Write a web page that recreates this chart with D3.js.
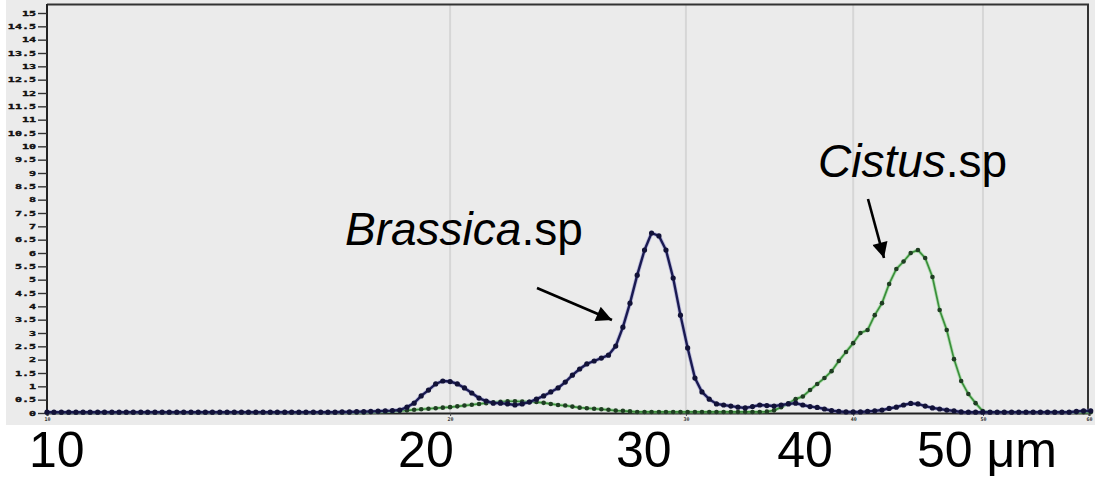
<!DOCTYPE html>
<html><head><meta charset="utf-8">
<script src="https://cdn.jsdelivr.net/npm/d3@7"></script>
<style>
html,body{margin:0;padding:0;background:#fff;}
svg{display:block;}
</style>
</head><body>
<svg id="chart" width="1095" height="477"></svg>
<script>
// particle size channels (µm, log-spaced)
const sizes = [
10.00,10.12,10.25,10.38,10.51,10.64,10.77,10.91,11.04,11.18,
11.32,11.46,11.60,11.75,11.89,12.04,12.19,12.34,12.50,12.65,
12.81,12.97,13.13,13.29,13.46,13.63,13.80,13.97,14.14,14.32,
14.50,14.68,14.86,15.05,15.23,15.42,15.61,15.81,16.01,16.21,
16.41,16.61,16.82,17.03,17.24,17.45,17.67,17.89,18.11,18.34,
18.57,18.80,19.03,19.27,19.51,19.75,20.00,20.25,20.50,20.76,
21.02,21.28,21.54,21.81,22.08,22.36,22.64,22.92,23.20,23.49,
23.78,24.08,24.38,24.68,24.99,25.30,25.62,25.94,26.26,26.59,
26.92,27.25,27.59,27.94,28.28,28.64,28.99,29.35,29.72,30.09,
30.47,30.84,31.23,31.62,32.01,32.41,32.81,33.22,33.64,34.06,
34.48,34.91,35.34,35.78,36.23,36.68,37.14,37.60,38.07,38.54,
39.02,39.51,40.00,40.50,41.00,41.51,42.03,42.55,43.08,43.62,
44.16,44.71,45.27,45.84,46.41,46.98,47.57,48.16,48.76,49.37,
49.98,50.61,51.24,51.87,52.52,53.17,53.84,54.51,55.19,55.87,
56.57,57.27,57.99,58.71,59.44,60.18
];
const brassica = [
0.03,0.03,0.03,0.03,0.03,0.03,0.03,0.03,0.03,0.03,
0.03,0.03,0.03,0.03,0.03,0.03,0.03,0.03,0.03,0.03,
0.03,0.03,0.03,0.03,0.03,0.03,0.03,0.03,0.03,0.03,
0.03,0.03,0.03,0.03,0.03,0.03,0.03,0.03,0.03,0.03,
0.03,0.04,0.04,0.05,0.05,0.06,0.07,0.08,0.09,0.11,
0.22,0.37,0.64,0.86,1.09,1.20,1.18,1.09,0.94,0.75,
0.56,0.45,0.37,0.37,0.34,0.30,0.34,0.41,0.52,0.64,
0.79,0.94,1.16,1.42,1.65,1.84,1.95,2.06,2.17,2.51,
3.22,4.12,5.17,6.11,6.75,6.64,6.11,5.06,3.67,2.44,
1.31,0.79,0.52,0.34,0.30,0.26,0.22,0.19,0.24,0.30,
0.28,0.26,0.30,0.34,0.37,0.30,0.24,0.21,0.15,0.09,
0.06,0.04,0.04,0.04,0.06,0.08,0.11,0.17,0.22,0.30,
0.36,0.34,0.26,0.19,0.15,0.11,0.08,0.04,0.03,0.03,
0.03,0.03,0.03,0.03,0.03,0.03,0.03,0.03,0.03,0.03,
0.03,0.03,0.03,0.06,0.08,0.08
];
const cistus = [
0.02,0.02,0.02,0.02,0.02,0.02,0.02,0.02,0.02,0.02,
0.02,0.02,0.02,0.02,0.02,0.02,0.02,0.02,0.02,0.02,
0.02,0.02,0.02,0.02,0.02,0.02,0.02,0.02,0.02,0.02,
0.02,0.02,0.02,0.02,0.02,0.02,0.02,0.02,0.02,0.02,
0.02,0.02,0.02,0.02,0.02,0.03,0.04,0.05,0.06,0.08,
0.10,0.12,0.14,0.16,0.18,0.20,0.22,0.25,0.28,0.31,
0.34,0.37,0.40,0.42,0.44,0.44,0.43,0.42,0.41,0.38,
0.34,0.30,0.28,0.24,0.20,0.18,0.16,0.14,0.12,0.09,
0.08,0.06,0.04,0.04,0.04,0.04,0.04,0.04,0.04,0.04,
0.04,0.04,0.04,0.04,0.04,0.04,0.04,0.04,0.04,0.04,
0.05,0.10,0.22,0.36,0.52,0.62,0.86,1.09,1.31,1.57,
1.95,2.29,2.62,3.00,3.11,3.67,4.12,4.84,5.40,5.68,
6.00,6.11,5.81,5.10,3.86,3.11,2.02,1.20,0.71,0.37,
0.07,0.03,0.03,0.03,0.03,0.03,0.03,0.03,0.03,0.03,
0.03,0.03,0.03,0.03,0.03,0.03
];
const yTicks = [0,0.5,1,1.5,2,2.5,3,3.5,4,4.5,5,5.5,6,6.5,7,7.5,8,8.5,9,9.5,10,10.5,11,11.5,12,12.5,13,13.5,14,14.5,15];
const xTicks = [10,20,30,40,50,60];
const gridValues = [20,30,40,50];
const bigLabels = ["10","20","30","40","50 \u03bcm"];
const bigLabelValues = [10,20,30,40,50];
const seriesNames = ["Brassica","Cistus"];

const svg = d3.select("#chart");
const x = d3.scaleLog().domain([10,60]).range([47,1089]);
const y = d3.scaleLinear().domain([0,15]).range([413,13]);

// grey photographed panel
svg.append("rect").attr("x",6).attr("y",0).attr("width",1089).attr("height",425).attr("fill","#ebebeb");

// vertical grid
svg.append("g").selectAll("line").data(gridValues).join("line")
  .attr("x1",d=>x(d)).attr("x2",d=>x(d)).attr("y1",5).attr("y2",413)
  .attr("stroke","#d6d6d6").attr("stroke-width",2);

// frame top & right
svg.append("path").attr("d",`M47,4.5H1088V413`).attr("fill","none").attr("stroke","#333").attr("stroke-width",2);

// y axis
const yAxis = svg.append("g").attr("transform","translate(47,0)")
  .call(d3.axisLeft(y).tickValues(yTicks).tickSize(9).tickPadding(0).tickFormat(d=>String(d)));
yAxis.select(".domain").attr("stroke","#222").attr("stroke-width",2).attr("d","M0,4V413");
yAxis.selectAll(".tick line").attr("stroke","#333").attr("stroke-width",1.4);
yAxis.selectAll(".tick text")
  .attr("font-family","DejaVu Sans Mono").attr("font-weight","bold").attr("font-size",6.5)
  .attr("fill","#111").attr("stroke","#111").attr("stroke-width",0.35)
  .attr("transform","scale(1.8,0.95)").attr("x",-11/1.8).attr("dy","0.36em");

// x axis line + tiny ticks
const xAxis = svg.append("g").attr("transform","translate(0,413)")
  .call(d3.axisBottom(x).tickValues(xTicks).tickSize(3).tickPadding(1).tickFormat(d3.format("d")));
xAxis.select(".domain").attr("stroke","#222").attr("stroke-width",2);
xAxis.selectAll(".tick line").attr("stroke","#444");
xAxis.selectAll(".tick text").attr("font-family","DejaVu Sans Mono").attr("font-weight","bold")
  .attr("font-size",5).attr("fill","#333");

const pts = s => sizes.map((d,i)=>[d, s[i]]);
const line = d3.line().x(d=>x(d[0])).y(d=>y(d[1]));

// Cistus
const cData = pts(cistus);
svg.append("path").datum(cData).attr("d",line).attr("fill","none")
  .attr("stroke","#7fd07f").attr("stroke-width",3.4).attr("opacity",0.5);
svg.append("path").datum(cData).attr("d",line).attr("fill","none")
  .attr("stroke","#3a8f3a").attr("stroke-width",1.7);
svg.append("g").selectAll("circle").data(cData).join("circle")
  .attr("cx",d=>x(d[0])).attr("cy",d=>y(d[1])).attr("r",2.3).attr("fill","#1f3d22");

// Brassica
const bData = pts(brassica);
svg.append("path").datum(bData).attr("d",line).attr("fill","none")
  .attr("stroke","#8c8ccc").attr("stroke-width",4).attr("opacity",0.5);
svg.append("path").datum(bData).attr("d",line).attr("fill","none")
  .attr("stroke","#1a1a52").attr("stroke-width",2.4);
svg.append("g").selectAll("circle").data(bData).join("circle")
  .attr("cx",d=>x(d[0])).attr("cy",d=>y(d[1])).attr("r",2.6).attr("fill","#121238");

// big hand-placed axis labels
const bigOffsets = [-18,-52,-70,-76,-66];
svg.append("g").selectAll("text").data(bigLabels).join("text")
  .attr("x",(d,i)=>x(bigLabelValues[i])+bigOffsets[i]).attr("y",467)
  .attr("font-family","Liberation Sans, Arial, sans-serif").attr("font-size",50)
  .attr("fill","#000").text(d=>d);

// annotations
function label(px, py, name){
  const t = svg.append("text").attr("x",px).attr("y",py)
    .attr("font-family","Liberation Sans, Arial, sans-serif").attr("font-size",46).attr("fill","#000");
  t.append("tspan").attr("font-style","italic").text(name);
  t.append("tspan").text(".sp");
}
label(345,245,seriesNames[0]);
label(818,177,seriesNames[1]);

const defs = svg.append("defs");
defs.append("marker").attr("id","ah").attr("viewBox","0 0 10 10").attr("refX",10).attr("refY",5)
  .attr("markerWidth",7).attr("markerHeight",6).attr("markerUnits","strokeWidth").attr("orient","auto")
  .append("path").attr("d","M0,0L10,5L0,10Z").attr("fill","#000");
svg.append("line").attr("x1",537).attr("y1",288).attr("x2",612).attr("y2",320)
  .attr("stroke","#000").attr("stroke-width",2.6).attr("marker-end","url(#ah)");
svg.append("line").attr("x1",868).attr("y1",199).attr("x2",884).attr("y2",258)
  .attr("stroke","#000").attr("stroke-width",2.6).attr("marker-end","url(#ah)");
</script>
</body></html>
